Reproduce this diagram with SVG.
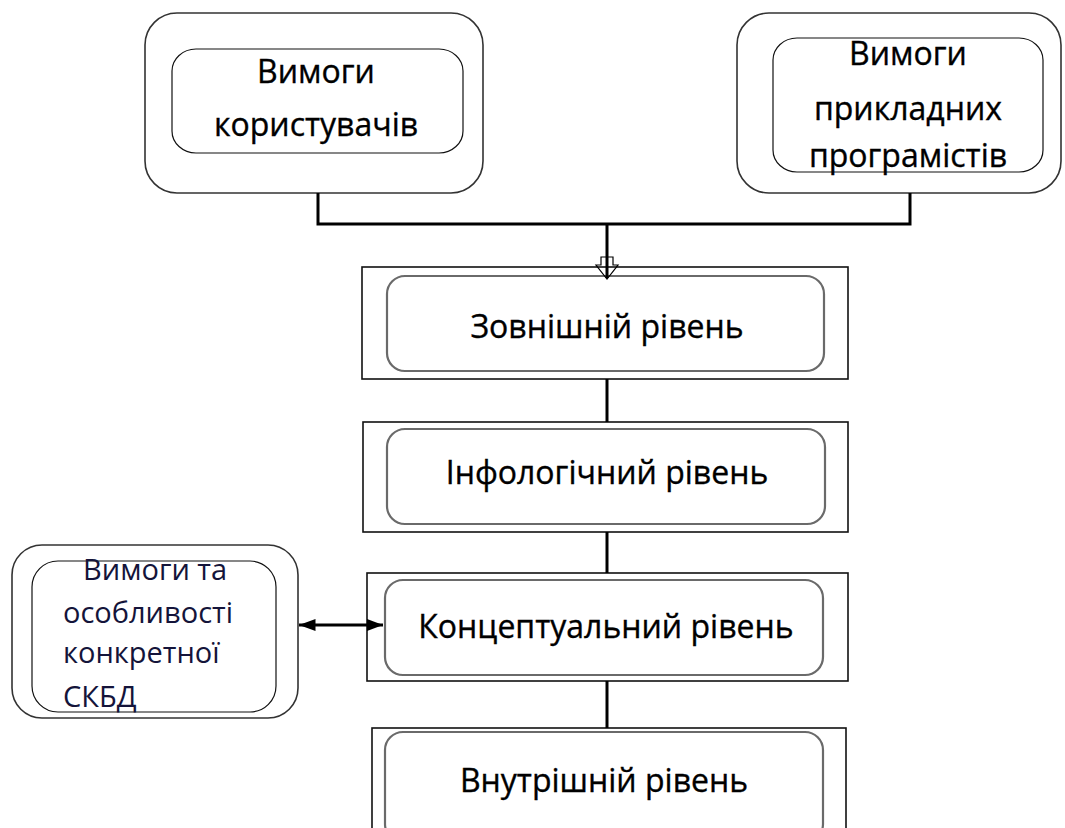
<svg xmlns="http://www.w3.org/2000/svg" width="1065" height="828" viewBox="0 0 1065 828">
  <defs>
    <marker id="tri" viewBox="0 0 10 10" refX="10" refY="5" markerWidth="5.5" markerHeight="5.5" orient="auto-start-reverse" markerUnits="strokeWidth">
      <path d="M0,1.3 L10,5 L0,8.7 Z" fill="#000"/>
    </marker>
  </defs>
  <style>
    .bg { fill: #fff; }
    .outer-round { fill: #fff; stroke: #333; stroke-width: 1.6; }
    .inner-round { fill: none; stroke: #111; stroke-width: 1.2; }
    .frame { fill: #fff; stroke: #111; stroke-width: 1.6; }
    .level { fill: none; stroke: #6a6a6a; stroke-width: 2.2; }
    .wire { fill: none; stroke: #000; stroke-width: 3; }
    .label { font-family: "Open Sans", "Noto Sans", "DejaVu Sans", sans-serif; font-size: 32px; fill: #000; stroke: #000; stroke-width: 0.35; text-anchor: middle; }
    .side { font-family: "Open Sans", "Noto Sans", "DejaVu Sans", sans-serif; font-size: 29px; fill: #14143a; }
  </style>
  <rect class="bg" x="0" y="0" width="1065" height="828"/>

  <!-- source: user requirements -->
  <g id="user-req">
    <rect class="outer-round" x="145" y="13" width="338" height="180" rx="32" ry="32"/>
    <rect class="inner-round" x="172" y="49" width="291" height="104" rx="24" ry="22"/>
    <text class="label" x="316" y="83">Вимоги</text>
    <text class="label" x="316" y="136">користувачів</text>
  </g>

  <!-- source: application programmer requirements -->
  <g id="prog-req">
    <rect class="outer-round" x="737" y="13" width="324" height="180" rx="32" ry="32"/>
    <rect class="inner-round" x="773" y="38" width="270" height="134" rx="24" ry="22"/>
    <text class="label" x="908" y="65">Вимоги</text>
    <text class="label" x="908" y="120">прикладних</text>
    <text class="label" x="908" y="167">програмістів</text>
  </g>

  <!-- external level -->
  <g id="external">
    <rect class="frame" x="362" y="267" width="486" height="112"/>
    <rect class="level" x="387" y="276" width="437" height="95" rx="18" ry="18"/>
    <text class="label" x="607" y="338">Зовнішній рівень</text>
  </g>

  <!-- infological level -->
  <g id="infological">
    <rect class="frame" x="363" y="422" width="485" height="110"/>
    <rect class="level" x="387" y="429" width="438" height="95" rx="18" ry="18"/>
    <text class="label" x="607" y="484">Інфологічний рівень</text>
  </g>

  <!-- conceptual level -->
  <g id="conceptual">
    <rect class="frame" x="367" y="573" width="481" height="108"/>
    <rect class="level" x="385" y="580" width="438" height="95" rx="18" ry="18"/>
    <text class="label" x="606" y="638">Концептуальний рівень</text>
  </g>

  <!-- internal level -->
  <g id="internal">
    <rect class="frame" x="372" y="728" width="474" height="110"/>
    <rect class="level" x="385" y="732" width="438" height="110" rx="18" ry="18"/>
    <text class="label" x="604" y="792">Внутрішній рівень</text>
  </g>

  <!-- DBMS requirements -->
  <g id="dbms-req">
    <rect class="outer-round" x="12" y="545" width="286" height="173" rx="30" ry="30"/>
    <rect class="inner-round" x="32" y="561" width="244" height="151" rx="26" ry="26"/>
    <text class="side" x="83" y="580">Вимоги та</text>
    <text class="side" x="63" y="623">особливості</text>
    <text class="side" x="63" y="663">конкретної</text>
    <text class="side" x="63" y="707">СКБД</text>
  </g>

  <!-- connectors -->
  <g id="connectors">
    <path class="wire" d="M318,193 V224 H910 V193"/>
    <path class="wire" d="M607,224 V278"/>
    <path class="wire" d="M607,379 V422"/>
    <path class="wire" d="M607,532 V573"/>
    <path class="wire" d="M607,681 V728"/>
    <path class="wire" d="M299,625 H383" marker-start="url(#tri)" marker-end="url(#tri)"/>
    <!-- hollow arrowhead where the feed enters the external level -->
    <path d="M601,257 H613 V265 H618 L607,279 L596,265 H601 Z" fill="none" stroke="#000" stroke-width="1.2"/>
  </g>
</svg>
